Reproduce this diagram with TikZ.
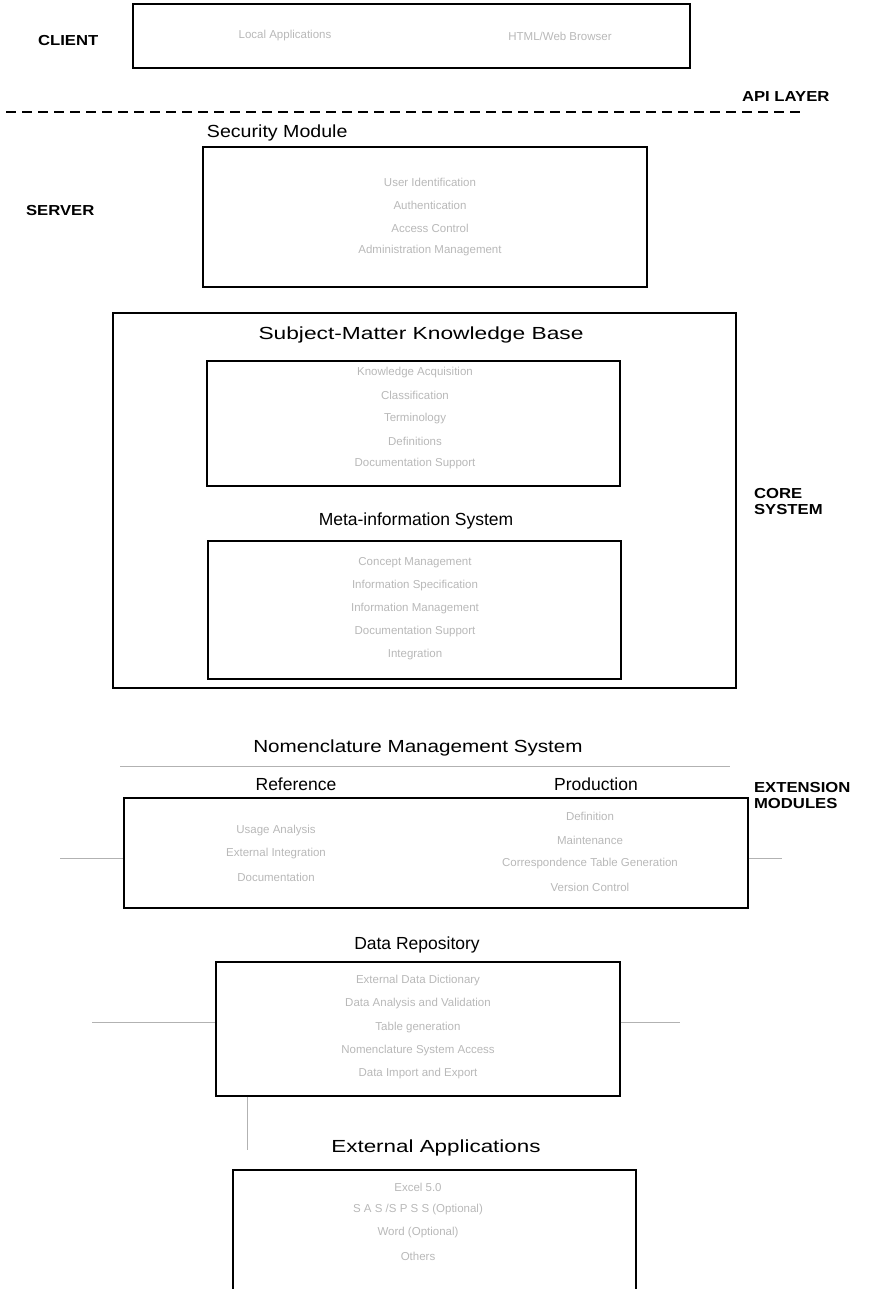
\documentclass[tikz,border=0pt]{standalone}
\usepackage{fontspec}
\setmainfont{Liberation Sans}
\usetikzlibrary{positioning}

\tikzset{
  box/.style={draw, line width=1.3pt, inner sep=0pt},
  tier/.style={font=\fontsize{14.5}{16}\selectfont\bfseries, anchor=west, align=left, xscale=1.15, transform shape},
  head/.style={font=\fontsize{17.5}{20}\selectfont},
  wide/.style={xscale=#1, transform shape},
  item/.style={font=\fontsize{11.5}{13}\selectfont, text=black!28},
  faint/.style={draw=black!30, line width=0.6pt},
}

\begin{document}
\begin{tikzpicture}[x=1pt, y=-1pt]
    \useasboundingbox (0,0) rectangle (869,1289);

    % tier labels
    \node[tier] (lclient) at (34,41) {CLIENT};
    \node[tier] (lapi) at (738,97) {API LAYER};
    \node[tier] (lserver) at (22,211) {SERVER};
    \node[tier] (lcore) at (750,502) {CORE\\SYSTEM};
    \node[tier] (lext) at (750,795) {EXTENSION\\MODULES};

    % client
    \node[box, minimum width=557pt, minimum height=64pt] (client) at (411.5,36) {};
    \node[item] (capp) at (285,36) {Local Applications};
    \node[item] (cweb) at (560,36) {HTML/Web Browser};

    \coordinate (apiL) at (6,112);
    \coordinate (apiR) at (800,112);
    \draw[line width=1.2pt, dash pattern=on 10pt off 6pt] (apiL) -- (apiR);

    % security module
    \node[head, wide=1.12, anchor=west] (hsec) at (203,133) {Security Module};
    \node[box, minimum width=444pt, minimum height=140pt] (sec) at (425,217) {};
    \foreach \t [count=\i] in {User Identification, Authentication, Access Control, Administration Management} {
        \node[item] (sec\i) at (430,160+22.7*\i) {\t};
    }

    % core system
    \node[box, minimum width=623pt, minimum height=375pt] (core) at (424.5,500.5) {};
    \node[head, wide=1.3] (hkb) at (421,335) {Subject-Matter Knowledge Base};
    \node[box, minimum width=413pt, minimum height=125pt] (kb) at (413.5,423.5) {};
    \foreach \t [count=\i] in {Knowledge Acquisition, Classification, Terminology, Definitions, Documentation Support} {
        \node[item] (kb\i) at (415,350+22.8*\i) {\t};
    }
    \node[head] (hmis) at (416,521) {Meta-information System};
    \node[box, minimum width=413pt, minimum height=138pt] (mis) at (414.5,610) {};
    \foreach \t [count=\i] in {Concept Management, Information Specification, Information Management, Documentation Support, Integration} {
        \node[item] (mis\i) at (415,540+23*\i) {\t};
    }

    % nomenclature management system
    \node[head, wide=1.18] (hnms) at (418,748) {Nomenclature Management System};
    \coordinate (nmsA) at (120,766);
    \coordinate (nmsB) at (730,766);
    \draw[faint] (nmsA) -- (nmsB);
    \node[head] (href) at (296,784) {Reference};
    \node[head] (hprod) at (596,784) {Production};
    \node[box, minimum width=624pt, minimum height=110pt] (nms) at (436,853) {};
    \foreach \t [count=\i] in {Usage Analysis, External Integration, Documentation} {
        \node[item] (ref\i) at (276,807+23.5*\i) {\t};
    }
    \foreach \t [count=\i] in {Definition, Maintenance, Correspondence Table Generation, Version Control} {
        \node[item] (prod\i) at (590,793+23.5*\i) {\t};
    }
    \coordinate (nmsL) at (60,858);
    \coordinate (nmsR) at (782,858);
    \draw[faint] (nmsL) -- (nmsL -| nms.west);
    \draw[faint] (nms.east |- nmsR) -- (nmsR);

    % data repository
    \node[head] (hdr) at (417,945) {Data Repository};
    \node[box, minimum width=404pt, minimum height=134pt] (dr) at (418,1029) {};
    \foreach \t [count=\i] in {External Data Dictionary, Data Analysis and Validation, Table generation, Nomenclature System Access, Data Import and Export} {
        \node[item] (dr\i) at (418,957+23.4*\i) {\t};
    }
    \coordinate (drL) at (92,1022);
    \coordinate (drR) at (680,1022);
    \draw[faint] (drL) -- (drL -| dr.west);
    \draw[faint] (dr.east |- drR) -- (drR);

    % external applications
    \node[head, wide=1.28] (hext) at (436,1148) {External Applications};
    \coordinate (extTL) at (233,1170);
    \coordinate (extTR) at (636,1170);
    \draw[line width=1.3pt] (233,1300) -- (extTL) -- (extTR) -- (636,1300);
    \coordinate (drlink) at (247,1150);
    \draw[faint] (dr.south -| drlink) -- (drlink);
    \foreach \t [count=\i] in {Excel 5.0, S A S /S P S S (Optional), Word (Optional), Others} {
        \node[item] (ext\i) at (418,1164+23*\i) {\t};
    }
\end{tikzpicture}
\end{document}
